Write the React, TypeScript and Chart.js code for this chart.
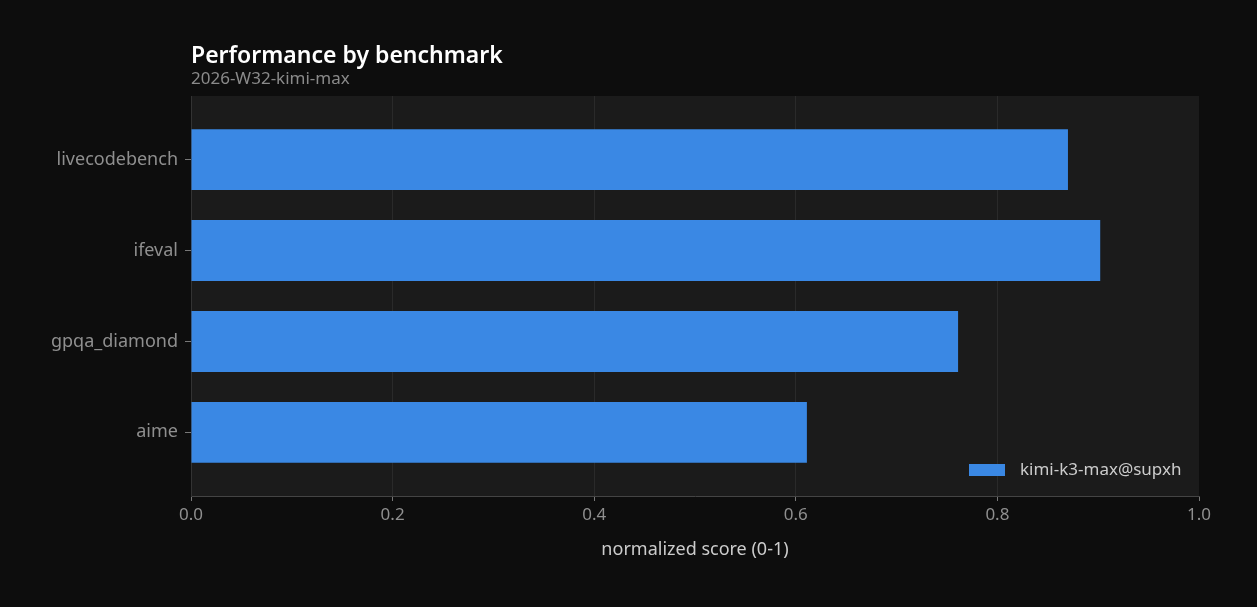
import { useEffect, useRef } from "react";
import { Chart, registerables } from "chart.js";

Chart.register(...registerables);

const categories = ["livecodebench", "ifeval", "gpqa_diamond", "aime"];
const scores = [0.87, 0.902, 0.761, 0.611];
const xTicks = [0, 0.2, 0.4, 0.6, 0.8, 1.0];
const seriesName = "kimi-k3-max@supxh";
const title = "Performance by benchmark";
const subtitle = "2026-W32-kimi-max";

const FONT = "'Noto Sans', 'Open Sans', sans-serif";
const BAR = "#3a88e4";

const backgroundPlugin = {
  id: "bg",
  beforeDraw(chart: any) {
    const { ctx, chartArea: a, width, height } = chart;
    ctx.save();
    ctx.fillStyle = "#0d0d0d";
    ctx.fillRect(0, 0, width, height);
    ctx.fillStyle = "#1b1b1b";
    ctx.fillRect(a.left, a.top, a.right - a.left, a.bottom - a.top);
    ctx.restore();
  },
  afterDraw(chart: any) {
    const { ctx, chartArea: a } = chart;
    ctx.save();
    // title + subtitle
    ctx.textBaseline = "alphabetic";
    ctx.textAlign = "left";
    ctx.fillStyle = "#ffffff";
    ctx.font = `600 23px ${FONT}`;
    ctx.fillText(title, a.left, 63);
    ctx.fillStyle = "#8a8a8a";
    ctx.font = `17px ${FONT}`;
    ctx.fillText(subtitle, a.left, 84);
    // legend inside plot, bottom right
    ctx.fillStyle = BAR;
    ctx.fillRect(969, 464, 36, 12);
    ctx.fillStyle = "#cccccc";
    ctx.font = `17px ${FONT}`;
    ctx.textBaseline = "middle";
    ctx.fillText(seriesName, 1020, 470);
    ctx.restore();
  },
};

export default function App() {
  const canvasRef = useRef<HTMLCanvasElement | null>(null);
  const chartRef = useRef<Chart | null>(null);

  useEffect(() => {
    document.body.style.margin = "0";
    if (!canvasRef.current) return;
    if (chartRef.current) chartRef.current.destroy();

    chartRef.current = new Chart(canvasRef.current, {
      type: "bar",
      data: {
        datasets: [
          {
            label: seriesName,
            data: scores.map((v, i) => ({ x: v, y: i })),
            backgroundColor: BAR,
            borderWidth: 0,
            barPercentage: 0.67,
            categoryPercentage: 1,
          },
        ],
      },
      options: {
        indexAxis: "y",
        animation: false,
        responsive: false,
        devicePixelRatio: 1,
        layout: { padding: { top: 96, right: 58, left: 0, bottom: 0 } },
        plugins: {
          legend: { display: false },
          tooltip: { enabled: false },
        },
        scales: {
          x: {
            type: "linear",
            min: 0,
            max: 1,
            afterBuildTicks: (s: any) => {
              s.ticks = xTicks.map((v) => ({ value: v }));
            },
            afterFit: (s: any) => {
              s.height = 111;
            },
            ticks: {
              color: "#8f8f8f",
              font: { family: FONT, size: 17 },
              padding: 4,
              callback: (v: any) => Number(v).toFixed(1),
            },
            grid: {
              color: (c: any) =>
                c.tick && (c.tick.value === 0 || c.tick.value === 1) ? "transparent" : "#2a2a2a",
              tickColor: "#777",
              tickLength: 5,
            },
            border: { color: "#444", width: 1 },
            title: {
              display: true,
              text: "normalized score (0-1)",
              color: "#cccccc",
              font: { family: FONT, size: 18 },
              padding: { top: 0, bottom: 46 },
            },
          },
          y: {
            type: "linear",
            min: -0.7,
            max: 3.7,
            reverse: true,
            offset: false,
            afterBuildTicks: (s: any) => {
              s.ticks = categories.map((_, i) => ({ value: i }));
            },
            afterFit: (s: any) => {
              s.width = 191;
            },
            ticks: {
              color: "#8f8f8f",
              font: { family: FONT, size: 18 },
              padding: 7,
              callback: (v: any) => categories[v] ?? "",
            },
            grid: {
              offset: false,
              color: "transparent",
              tickColor: "#777",
              tickLength: 6,
            },
            border: { color: "#333", width: 1 },
          },
        },
      },
      plugins: [backgroundPlugin],
    } as any);

    return () => {
      if (chartRef.current) {
        chartRef.current.destroy();
        chartRef.current = null;
      }
    };
  }, []);

  return (
    <div style={{ width: 1257, height: 607, background: "#0d0d0d" }}>
      <canvas ref={canvasRef} width={1257} height={607} style={{ display: "block" }} />
    </div>
  );
}
